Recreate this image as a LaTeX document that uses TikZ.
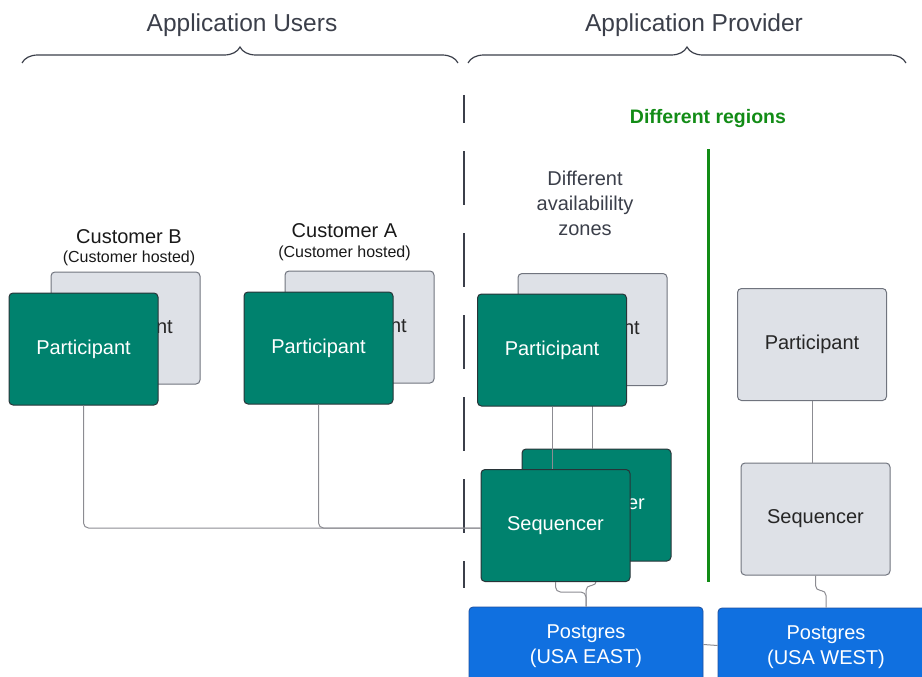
\documentclass[tikz,border=0pt]{standalone}
\usepackage{fontspec}
\setmainfont{Liberation Sans}
\usetikzlibrary{decorations.pathreplacing}
\definecolor{headgray}{RGB}{59,63,74}
\definecolor{tealbox}{RGB}{0,130,110}
\definecolor{tealline}{RGB}{40,52,56}
\definecolor{graybox}{RGB}{222,225,231}
\definecolor{grayline}{RGB}{112,116,126}
\definecolor{pgblue}{RGB}{16,112,224}
\definecolor{pgline}{RGB}{30,80,160}
\definecolor{wiregray}{RGB}{140,140,146}
\definecolor{regiongreen}{RGB}{18,140,22}
\begin{document}
\begin{tikzpicture}[x=1pt,y=-1pt,
  box/.style={rounded corners=4, minimum width=149, minimum height=112, line width=1, font=\fontsize{20}{24}\selectfont},
  live/.style={box, draw=tealline, fill=tealbox, text=white},
  idle/.style={box, draw=grayline, fill=graybox, text=black!85},
  store/.style={rounded corners=4, draw=pgline, fill=pgblue, text=white, line width=0.8, minimum height=79, align=center, font=\fontsize{20}{25}\selectfont},
  wire/.style={draw=wiregray, line width=1, rounded corners=5},
  head/.style={text=headgray, font=\fontsize{24.5}{28}\selectfont},
  cust/.style={text=black!90, font=\fontsize{20}{24}\selectfont},
  note/.style={text=black!90, font=\fontsize{16}{19}\selectfont}]
\useasboundingbox (0,0) rectangle (922,677);
\clip (0,0) rectangle (922,677);

% headings and braces
\node[head] (users) at (242,25.5) {Application Users};
\node[head] (provider) at (694,25.5) {Application Provider};
\draw[headgray, line width=1.2, decorate, decoration={brace, amplitude=16}] (22,63) -- (458,63);
\draw[headgray, line width=1.2, decorate, decoration={brace, amplitude=16}] (468,63) -- (906,63);

% separators
\coordinate (sepTop) at (464,95);
\coordinate (sepBot) at (464,588);
\draw[headgray, line width=2.5, dash pattern=on 54 off 28, dash phase=26] (sepTop) -- (sepBot);
\coordinate (regTop) at (708,149);
\coordinate (regBot) at (708,582);
\draw[regiongreen, line width=3] (regTop) -- (regBot);
\node[text=regiongreen, font=\bfseries\fontsize{19.5}{24}\selectfont] (regions) at (708,118.5) {Different regions};
\node[text=headgray, align=center, font=\fontsize{20}{25}\selectfont] (zones) at (585,203) {Different\\availabililty\\zones};

% customer labels
\node[cust] (custB) at (129,237) {Customer B};
\node[note] (custBnote) at (129,258.5) {(Customer hosted)};
\node[cust] (custA) at (344.5,231) {Customer A};
\node[note] (custAnote) at (344.5,253.5) {(Customer hosted)};

% databases
\node[store, minimum width=234] (pgE) at (586,646.5) {Postgres\\(USA EAST)};
\node[store, minimum width=216] (pgW) at (826,647.5) {Postgres\\(USA WEST)};

% back replicas
\node[idle] (ppB2) at (125.5,328) {Participant};
\node[idle] (ppA2) at (359.5,327) {Participant};
\node[idle] (ppE2) at (592.5,329.5) {Participant};
\node[live] (seqE2) at (596.5,505) {Sequencer};
\draw[wire] (ppE2.south) -- (ppE2.south |- seqE2.north);
\draw[wire] (seqE2.south) -- ++(0,24) -| (pgE.north);

% front nodes
\node[live] (ppB) at (83.5,349) {Participant};
\node[live] (ppA) at (318.5,348) {Participant};
\node[live] (ppE) at (552,350) {Participant};
\node[live] (seqE) at (555.5,525.5) {Sequencer};
\node[idle] (ppW) at (812,344.5) {Participant};
\node[idle] (seqW) at (815.5,519) {Sequencer};

% links
\draw[wire] (ppB.south) |- ([yshift=-2.5]seqE.west);
\draw[wire] (ppA.south) |- ([yshift=-2.5]seqE.west);
\draw[wire] (ppE.south) -- (ppE.south |- seqE.north);
\draw[wire] (seqE.south) -- ++(0,10) -| (pgE.north);
\draw[wire] (ppW.south) -- (ppW.south |- seqW.north);
\draw[wire] (seqW.south) -- ++(0,15) -| (pgW.north);
\draw[wire] ([yshift=2]pgE.east) -- ([yshift=2]pgW.west);
\end{tikzpicture}
\end{document}
